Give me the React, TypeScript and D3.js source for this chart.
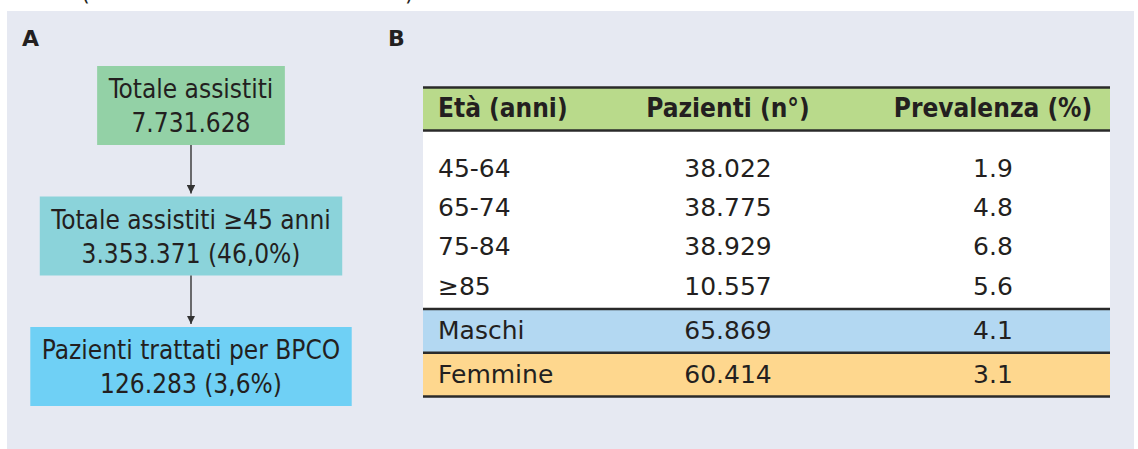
import React, { useEffect, useRef } from 'react';
import * as d3 from 'd3';

// Panel A: flow of patients
const flowLabels = ['Totale assistiti', 'Totale assistiti \u226545 anni', 'Pazienti trattati per BPCO'];
const flowValues = ['7.731.628', '3.353.371 (46,0%)', '126.283 (3,6%)'];
const flowColors = ['#93d1a6', '#8bd3da', '#6fd0f5'];

// Panel B: table
const headers = ['Et\u00e0 (anni)', 'Pazienti (n\u00b0)', 'Prevalenza (%)'];
const ageGroups = ['45-64', '65-74', '75-84', '\u226585'];
const agePatients = ['38.022', '38.775', '38.929', '10.557'];
const agePrevalence = [1.9, 4.8, 6.8, 5.6];
const sexGroups = ['Maschi', 'Femmine'];
const sexPatients = ['65.869', '60.414'];
const sexPrevalence = [4.1, 3.1];
const sexColors = ['#b3d8f2', '#fed78e'];

const W = 1138;
const H = 449;
const ink = '#231f20';
const flowFont = '"DejaVu Sans Condensed", "DejaVu Sans", sans-serif';
const tableFont = '"DejaVu Sans", sans-serif';

const App = () => {
  const ref = useRef<SVGSVGElement>(null);

  useEffect(() => {
    const svg = d3.select(ref.current);
    svg.selectAll('*').remove();

    // caption above the panel, cut by the top edge as in the source
    svg.append('text').attr('x', 81).attr('y', 0).attr('font-family', flowFont)
      .attr('font-size', 25).attr('fill', ink).text('(');
    svg.append('text').attr('x', 405).attr('y', 0).attr('font-family', flowFont)
      .attr('font-size', 25).attr('fill', ink).text(')');

    svg.append('rect').attr('x', 7).attr('y', 11).attr('width', 1127).attr('height', 438)
      .attr('fill', '#e6e9f2');

    svg.append('text').attr('x', 22).attr('y', 46).attr('font-family', tableFont)
      .attr('font-size', 22).attr('font-weight', 'bold').attr('fill', ink).text('A');
    svg.append('text').attr('x', 388).attr('y', 46).attr('font-family', tableFont)
      .attr('font-size', 22).attr('font-weight', 'bold').attr('fill', ink).text('B');

    // ---- Panel A ----
    const cx = 191;
    const boxH = 79;
    const pad = 11.5;
    const yFlow = d3.scalePoint<number>().domain(d3.range(flowLabels.length)).range([66, 327]);

    const defs = svg.append('defs');
    defs.append('marker').attr('id', 'arr').attr('viewBox', '0 0 10 10')
      .attr('refX', 10).attr('refY', 5).attr('markerWidth', 6).attr('markerHeight', 6)
      .attr('markerUnits', 'strokeWidth').attr('orient', 'auto')
      .append('path').attr('d', 'M0,0L10,5L0,10z').attr('fill', '#333');

    const flowG = svg.append('g');
    flowLabels.forEach((lab, i) => {
      const top = yFlow(i)!;
      const g = flowG.append('g');
      const rect = g.append('rect').attr('y', top).attr('height', boxH).attr('fill', flowColors[i]);
      const t1 = g.append('text').attr('x', cx).attr('y', top + 32).attr('text-anchor', 'middle')
        .attr('font-family', flowFont).attr('font-size', 26).attr('fill', ink).text(lab);
      const t2 = g.append('text').attr('x', cx).attr('y', top + 66).attr('text-anchor', 'middle')
        .attr('font-family', flowFont).attr('font-size', 26).attr('fill', ink).text(flowValues[i]);
      const w = Math.max(
        (t1.node() as SVGTextElement).getComputedTextLength(),
        (t2.node() as SVGTextElement).getComputedTextLength()
      ) + pad * 2;
      rect.attr('x', cx - w / 2).attr('width', w);

      if (i < flowLabels.length - 1) {
        flowG.append('line').attr('x1', cx).attr('x2', cx)
          .attr('y1', top + boxH).attr('y2', yFlow(i + 1)! - 3)
          .attr('stroke', '#333').attr('stroke-width', 1.4)
          .attr('marker-end', 'url(#arr)');
      }
    });

    // ---- Panel B ----
    const tx0 = 423;
    const tx1 = 1110;
    const colX = [438, 728, 993];
    const anchors = ['start', 'middle', 'middle'];

    const yAge = d3.scaleLinear().domain([0, 1]).range([176.7, 216]);
    const ySex = d3.scaleBand<number>().domain(d3.range(sexGroups.length)).range([309, 396.5]);

    const tbl = svg.append('g');
    tbl.append('rect').attr('x', tx0).attr('y', 87).attr('width', tx1 - tx0).attr('height', 222)
      .attr('fill', '#ffffff');
    tbl.append('rect').attr('x', tx0).attr('y', 87).attr('width', tx1 - tx0).attr('height', 44)
      .attr('fill', '#b9da8b');

    tbl.selectAll('text.head').data(headers).enter().append('text').attr('class', 'head')
      .attr('x', (_d, i) => colX[i]).attr('y', 116.7)
      .attr('text-anchor', (_d, i) => anchors[i])
      .attr('font-family', flowFont).attr('font-weight', 'bold').attr('font-size', 26)
      .attr('fill', ink).text((d) => d);

    const ageRows = ageGroups.map((g, i) => [g, agePatients[i], agePrevalence[i].toFixed(1)]);
    ageRows.forEach((row, i) => {
      row.forEach((cell, j) => {
        tbl.append('text').attr('x', colX[j]).attr('y', yAge(i))
          .attr('text-anchor', anchors[j]).attr('font-family', tableFont)
          .attr('font-size', 25).attr('fill', ink).text(cell);
      });
    });

    const sexRows = sexGroups.map((g, i) => [g, sexPatients[i], sexPrevalence[i].toFixed(1)]);
    sexRows.forEach((row, i) => {
      const y0 = ySex(i)!;
      tbl.append('rect').attr('x', tx0).attr('y', y0).attr('width', tx1 - tx0)
        .attr('height', ySex.bandwidth()).attr('fill', sexColors[i]);
      row.forEach((cell, j) => {
        tbl.append('text').attr('x', colX[j]).attr('y', y0 + 30)
          .attr('text-anchor', anchors[j]).attr('font-family', tableFont)
          .attr('font-size', 25).attr('fill', ink).text(cell);
      });
    });

    const rules = [87.5, 130.5, 309, ...sexGroups.map((_g, i) => ySex(i)! + ySex.bandwidth())];
    tbl.selectAll('line.rule').data(rules).enter().append('line').attr('class', 'rule')
      .attr('x1', tx0).attr('x2', tx1).attr('y1', (d) => d).attr('y2', (d) => d)
      .attr('stroke', '#2a2a2a').attr('stroke-width', 2.6);
  }, []);

  return (
    <svg
      ref={ref}
      width={W}
      height={H}
      style={{ position: 'absolute', left: 0, top: 0, background: '#ffffff' }}
    />
  );
};

export default App;
